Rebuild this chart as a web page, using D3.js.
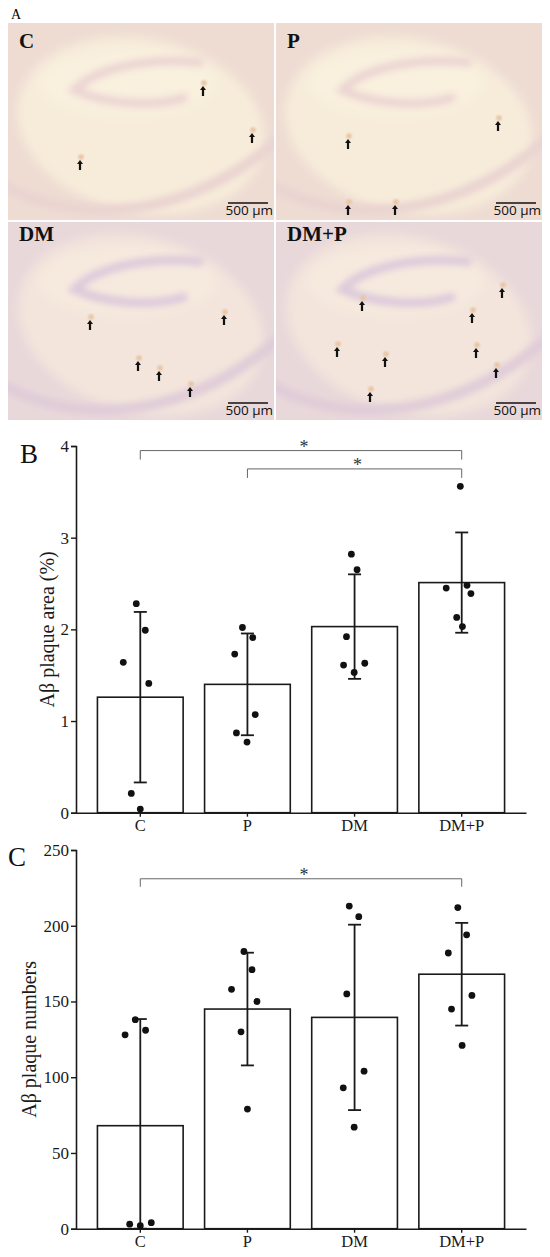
<!DOCTYPE html>
<html>
<head>
<meta charset="utf-8">
<script src="https://cdn.jsdelivr.net/npm/d3@7"></script>
<style>
  html, body { margin: 0; padding: 0; background: #fff; }
  svg { display: block; }
  .serif { font-family: "Liberation Serif", "Times New Roman", serif; }
</style>
</head>
<body>
<div id="chart"></div>
<script>
// ---- data ----
const groups = ['C', 'P', 'DM', 'DM+P']

// panel B: Abeta plaque area (%)
const areaMean = [1.26, 1.40, 2.03, 2.51]
const areaSD = [0.93, 0.555, 0.57, 0.547]
const areaPoints = [
  [2.28, 1.99, 1.64, 1.41, 0.21, 0.04],
  [2.02, 1.91, 1.73, 1.07, 0.87, 0.77],
  [2.82, 2.65, 1.92, 1.63, 1.61, 1.53],
  [3.56, 2.48, 2.45, 2.39, 2.13, 2.03]
]
const areaTicks = [0, 1, 2, 3, 4]
const areaSig = [['C', 'DM+P', 3.95, '*'], ['P', 'DM+P', 3.75, '*']]

// panel C: Abeta plaque numbers
const numMean = [68, 145, 139.5, 168]
const numSD = [70.4, 37.2, 61.2, 33.9]
const numPoints = [
  [138, 131, 128, 4, 3, 2],
  [183, 171, 158, 150, 130, 79],
  [213, 206, 155, 104, 93, 67],
  [212, 194, 182, 154, 145, 121]
]
const numTicks = [0, 50, 100, 150, 200, 250]
const numSig = [['C', 'DM+P', 231, '*']]

// panel A: micrograph labels
const photoLabels = ['C', 'P', 'DM', 'DM+P']

// ---- layout (not data) ----
const W = 550, H = 1257
// horizontal scatter of the dots inside each bar, px
const jitterArea = [
  [-4, 5, -17, 8.5, -9, 0],
  [-5, 5.3, -12.7, 7.8, -11, -0.4],
  [-3.2, 2.5, -8.1, 10.2, -11, -0.4],
  [-1.4, 5.3, -15.5, 9.2, -5, 0.7]
]
const jitterNum = [
  [-5, 5.3, -15.2, 11, -10.6, 0],
  [-3.5, 4.6, -15.9, 9.5, -6.4, 0],
  [-5.3, 4.2, -7.8, 9.5, -11.3, -0.4],
  [-3.9, 4.9, -13.4, 10.2, -10.2, 0.4]
]

const photoBox = [
  { x: 8, y: 23, w: 266, h: 197 },
  { x: 276, y: 23, w: 266, h: 197 },
  { x: 8, y: 222, w: 266, h: 198 },
  { x: 276, y: 222, w: 266, h: 198 }
]
// arrow spots in each photo, px offset from the photo's top-left corner
const arrowSpots = [
  [[72, 142], [195, 68], [244, 115]],
  [[72, 121], [72, 187], [119, 187], [222, 103]],
  [[82, 103], [216, 98], [130, 144], [151, 154], [182, 170]],
  [[86, 84], [226, 71], [196, 96], [61, 130], [109, 140], [200, 131], [220, 151], [94, 175]]
]

const svg = d3.select('#chart').append('svg')
  .attr('width', W)
  .attr('height', H)

// ============ panel A ============
const defs = svg.append('defs')
photoBox.forEach((b, i) => {
  defs.append('clipPath').attr('id', 'clip' + i)
    .append('rect').attr('x', b.x).attr('y', b.y).attr('width', b.w).attr('height', b.h)
})
defs.append('filter').attr('id', 'soft').attr('x', '-20%').attr('y', '-20%').attr('width', '140%').attr('height', '140%')
  .append('feGaussianBlur').attr('stdDeviation', 5)
defs.append('filter').attr('id', 'soft1').attr('x', '-20%').attr('y', '-20%').attr('width', '140%').attr('height', '140%')
  .append('feGaussianBlur').attr('stdDeviation', 3)
defs.append('filter').attr('id', 'soft2')
  .append('feGaussianBlur').attr('stdDeviation', 1.2)

svg.append('text').attr('class', 'serif')
  .attr('x', 11).attr('y', 19)
  .attr('font-size', 14)
  .text('A')

photoBox.forEach((b, i) => {
  const g = svg.append('g').attr('clip-path', `url(#clip${i})`)
  const px = f => b.x + f * b.w
  const py = f => b.y + f * b.h
  const bottomRow = i >= 2

  g.append('rect')
    .attr('x', b.x).attr('y', b.y).attr('width', b.w).attr('height', b.h)
    .attr('fill', bottomRow ? '#e9d8da' : '#eedcd3')

  const tissue = g.append('g').attr('filter', 'url(#soft)')
  // pale hippocampus body
  tissue.append('ellipse')
    .attr('cx', px(0.5)).attr('cy', py(0.52))
    .attr('rx', b.w * 0.47).attr('ry', b.h * 0.44)
    .attr('transform', `rotate(${bottomRow ? 16 : 12},${px(0.5)},${py(0.52)})`)
    .attr('fill', bottomRow ? '#f3e5dc' : '#f7ecda')
  // pale fissure region above the dentate band
  tissue.append('ellipse')
    .attr('cx', px(0.45)).attr('cy', py(0.3))
    .attr('rx', b.w * 0.33).attr('ry', b.h * 0.17)
    .attr('fill', bottomRow ? '#f6eade' : '#f9f0de')

  // outer cortex band near the bottom
  g.append('path')
    .attr('d', `M${px(-0.05)},${py(0.8)} C${px(0.25)},${py(1.05)} ${px(0.7)},${py(1.0)} ${px(1.05)},${py(0.55)}`)
    .attr('fill', 'none')
    .attr('stroke', bottomRow ? '#e0ccd8' : '#ead4d1')
    .attr('stroke-width', 11)
    .attr('filter', 'url(#soft1)')

  // dentate gyrus band
  g.append('path')
    .attr('d', `M${px(0.72)},${py(0.2)} C${px(0.5)},${py(0.17)} ${px(0.32)},${py(0.24)} ${px(0.25)},${py(0.34)}`
      + ` C${px(0.36)},${py(0.41)} ${px(0.54)},${py(0.43)} ${px(0.66)},${py(0.38)}`)
    .attr('fill', 'none')
    .attr('stroke', bottomRow ? '#ddcadb' : '#ecd5d3')
    .attr('stroke-width', 9)
    .attr('stroke-linecap', 'round')
    .attr('filter', 'url(#soft1)')

  // small brown plaques above each arrow
  g.append('g').selectAll('circle')
    .data(arrowSpots[i])
    .join('circle')
    .attr('cx', d => b.x + d[0] + 1)
    .attr('cy', d => b.y + d[1] - 8)
    .attr('r', 2.8)
    .attr('fill', '#e8c4a4')
    .attr('filter', 'url(#soft2)')

  // arrows
  g.append('g').selectAll('path')
    .data(arrowSpots[i])
    .join('path')
    .attr('transform', d => `translate(${b.x + d[0]},${b.y + d[1]})`)
    .attr('d', 'M0,-5 L3,-1 L1.1,-1 L1.1,5 L-1.1,5 L-1.1,-1 L-3,-1 Z')
    .attr('fill', '#111')

  // label
  svg.append('text').attr('class', 'serif')
    .attr('x', b.x + 11)
    .attr('y', b.y + (bottomRow ? 19 : 25))
    .attr('font-size', 21)
    .attr('font-weight', 'bold')
    .attr('fill', '#111')
    .text(photoLabels[i])

  // scale bar
  const sbRight = b.x + b.w - 6
  svg.append('line')
    .attr('x1', sbRight - 40).attr('x2', sbRight)
    .attr('y1', b.y + b.h - 17).attr('y2', b.y + b.h - 17)
    .attr('stroke', '#111').attr('stroke-width', 1.3)
  svg.append('text')
    .attr('x', sbRight + 5).attr('y', b.y + b.h - 5)
    .attr('text-anchor', 'end')
    .attr('font-family', '"Open Sans", "DejaVu Sans", sans-serif')
    .attr('font-size', 13.5)
    .attr('fill', '#111')
    .text('500 µm')
})

// ============ bar panels ============
const x = d3.scaleBand()
  .domain(groups)
  .range([76, 526])
  .paddingInner(0.2)
  .paddingOuter(0.2)

function barPanel(opts) {
  const { mean, sd, points, jitter, ticks, domain, yRange, label, letter, letterPos, labelX, sig, sigDrop } = opts
  const y = d3.scaleLinear().domain(domain).range(yRange)
  const g = svg.append('g').attr('class', 'serif')

  // bars
  g.append('g').selectAll('rect')
    .data(groups)
    .join('rect')
    .attr('x', d => x(d))
    .attr('width', x.bandwidth())
    .attr('y', (d, i) => y(mean[i]))
    .attr('height', (d, i) => y(0) - y(mean[i]))
    .attr('fill', '#fff')
    .attr('stroke', '#1a1a1a')
    .attr('stroke-width', 1.6)

  // axes
  const yAxis = g.append('g')
    .attr('transform', 'translate(76,0)')
    .call(d3.axisLeft(y).tickValues(ticks).tickSize(5).tickPadding(2).tickFormat(d3.format('d')))
  yAxis.select('.domain').attr('stroke', '#1a1a1a').attr('stroke-width', 1.6)
  yAxis.selectAll('.tick line').attr('stroke', '#1a1a1a').attr('stroke-width', 1.4)
  yAxis.selectAll('.tick text')
    .attr('font-family', '"Liberation Serif", serif')
    .attr('font-size', 17)
    .attr('fill', '#1a1a1a')

  const xAxis = g.append('g')
    .attr('transform', `translate(0,${y(0)})`)
    .call(d3.axisBottom(x).tickSize(4).tickPadding(3).tickSizeOuter(0))
  xAxis.select('.domain').attr('stroke', '#1a1a1a').attr('stroke-width', 1.6)
  xAxis.selectAll('.tick line').attr('stroke', '#1a1a1a').attr('stroke-width', 1.4)
  xAxis.selectAll('.tick text')
    .attr('font-family', '"Liberation Serif", serif')
    .attr('font-size', 16.5)
    .attr('fill', '#1a1a1a')

  // error bars
  const err = g.append('g')
    .attr('stroke', '#1a1a1a')
    .attr('stroke-width', 1.8)
  groups.forEach((grp, i) => {
    const cx = x(grp) + x.bandwidth() / 2
    const hi = y(mean[i] + sd[i])
    const lo = y(Math.max(domain[0], mean[i] - sd[i]))
    err.append('line').attr('x1', cx).attr('x2', cx).attr('y1', hi).attr('y2', lo)
    err.append('line').attr('x1', cx - 6.5).attr('x2', cx + 6.5).attr('y1', hi).attr('y2', hi)
    err.append('line').attr('x1', cx - 6.5).attr('x2', cx + 6.5).attr('y1', lo).attr('y2', lo)
  })

  // dots
  groups.forEach((grp, i) => {
    const cx = x(grp) + x.bandwidth() / 2
    g.append('g').selectAll('circle')
      .data(points[i])
      .join('circle')
      .attr('cx', (d, j) => cx + jitter[i][j])
      .attr('cy', d => y(d))
      .attr('r', 3.4)
      .attr('fill', '#111')
  })

  // significance brackets
  sig.forEach(([a, b, level, mark]) => {
    const xa = x(a) + x.bandwidth() / 2
    const xb = x(b) + x.bandwidth() / 2
    const yl = y(level)
    g.append('path')
      .attr('d', `M${xa},${yl + sigDrop} V${yl} H${xb} V${yl + sigDrop}`)
      .attr('fill', 'none')
      .attr('stroke', '#666')
      .attr('stroke-width', 1)
    g.append('text')
      .attr('x', (xa + xb) / 2 + 3)
      .attr('y', yl + 2.5)
      .attr('text-anchor', 'middle')
      .attr('font-size', 18)
      .attr('fill', '#333')
      .text(mark)
  })

  // axis title
  const midY = (yRange[0] + yRange[1]) / 2
  g.append('text')
    .attr('transform', `translate(${labelX},${midY}) rotate(-90)`)
    .attr('text-anchor', 'middle')
    .attr('font-size', 20)
    .attr('fill', '#1a1a1a')
    .text(label)

  // panel letter
  g.append('text')
    .attr('x', letterPos[0]).attr('y', letterPos[1])
    .attr('font-size', 27)
    .attr('fill', '#111')
    .text(letter)
}

barPanel({
  mean: areaMean, sd: areaSD, points: areaPoints, jitter: jitterArea,
  ticks: areaTicks, domain: [0, 4], yRange: [812.7, 446],
  label: 'Aβ plaque area (%)', letter: 'B', letterPos: [20, 463], labelX: 54,
  sig: areaSig, sigDrop: 9
})

barPanel({
  mean: numMean, sd: numSD, points: numPoints, jitter: jitterNum,
  ticks: numTicks, domain: [0, 250], yRange: [1228.7, 850],
  label: 'Aβ plaque numbers', letter: 'C', letterPos: [8, 866], labelX: 36,
  sig: numSig, sigDrop: 8
})
</script>
</body>
</html>
